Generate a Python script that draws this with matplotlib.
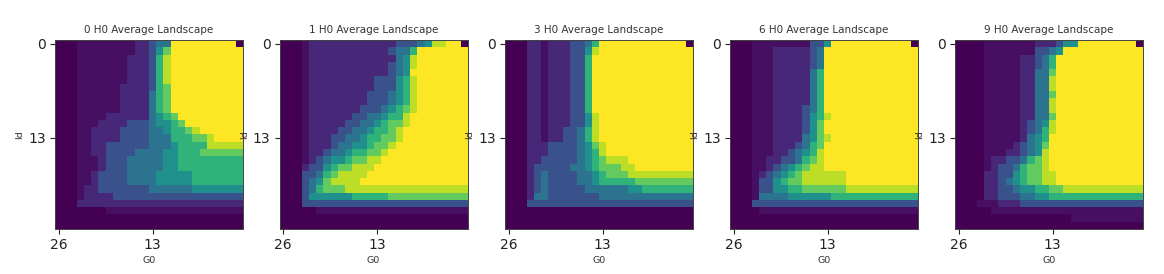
import matplotlib
matplotlib.use('Agg')
import matplotlib.pyplot as plt
import numpy as np

# digits in the rows are indexes into levels (approximate colour scale positions)
levels = [0.0, 0.04, 0.11, 0.25, 0.38, 0.5, 0.65, 0.76, 0.9, 1.0]

titles = ['0 H0 Average Landscape', '1 H0 Average Landscape', '3 H0 Average Landscape',
          '6 H0 Average Landscape', '9 H0 Average Landscape']
tick_pos = [0, 13]
x_tick_labels = ['26', '13']
y_tick_labels = ['0', '13']

land0 = [
    '00011111111223449999999990',
    '00011111111223579999999999',
    '00011111112223689999999999',
    '00011111112223689999999999',
    '00011111112223689999999999',
    '00011111112223689999999999',
    '00011111122223679999999999',
    '00011111122224679999999999',
    '00011111122224679999999999',
    '00011111122224679999999999',
    '00011112222224567999999999',
    '00011122223334556799999999',
    '00011222233334456678999999',
    '00011222233334446667789999',
    '00011223333334445666688888',
    '00011223333444455666777777',
    '00011123334444455666666666',
    '00011123334444455666666666',
    '00011233334444555556666666',
    '00011233334444555556666666',
    '00012233333334444445555555',
    '00012222333333333333333333',
    '00022222222222222222222222',
    '00000001111111111111111111',
    '00000000000000000000000000',
    '00000000000000000000000000',
]

land1 = [
    '00012222222222223334588990',
    '00012222222222234469999999',
    '00012222222222224589999999',
    '00012222222222234589999999',
    '00012222222222234599999999',
    '00012222222223335689999999',
    '00012222222223335689999999',
    '00012222222233345689999999',
    '00012222222233345689999999',
    '00012222222333456789999999',
    '00012222223344566899999999',
    '00012222233445677899999999',
    '00012222334456678999999999',
    '00012223344566778999999999',
    '00012223445567789999999999',
    '00012234456677899999999999',
    '00012345567788999999999999',
    '00023356778889999999999999',
    '00033467888899999999999999',
    '00034578888999999999999999',
    '00034677788888888888888888',
    '00035555556666677777777777',
    '00033333333333333333333333',
    '00000111111111111111111111',
    '00000000000000000000000000',
    '00000000000000000000000000',
]

land2 = [
    '00022122233469999999999990',
    '00022122233589999999999999',
    '00022122233699999999999999',
    '00022122233699999999999999',
    '00022122233699999999999999',
    '00022122233699999999999999',
    '00022122233699999999999999',
    '00022122233699999999999999',
    '00022122233699999999999999',
    '00022122233699999999999999',
    '00022122233589999999999999',
    '00022122233589999999999999',
    '00022122334689999999999999',
    '00022122334689999999999999',
    '00022233334578999999999999',
    '00022233334568999999999999',
    '00022333334567888999999999',
    '00023333344567778899999999',
    '00023433334456777888888888',
    '00023433334456666677777777',
    '00023433333444444556666666',
    '00024433333334444444444444',
    '00033333333333333333333333',
    '00000000000000000000000000',
    '00000000000000000000000000',
    '00000000000000000000000000',
]

land3 = [
    '00011111111335999999999990',
    '00011122222349999999999999',
    '00011122222349999999999999',
    '00011122222349999999999999',
    '00011122222469999999999999',
    '00011122222469999999999999',
    '00011122222469999999999999',
    '00011122222469999999999999',
    '00011122222469999999999999',
    '00011122223469999999999999',
    '00011122223568999999999999',
    '00011122223579999999999999',
    '00011122223579999999999999',
    '00011122224578999999999999',
    '00011122234679999999999999',
    '00011122345689999999999999',
    '00011223346789999999999999',
    '00011234567889999999999999',
    '00012345678888889999999999',
    '00013356778888889999999999',
    '00013355667777778888888888',
    '00014444555555666666666666',
    '00033333333333333333333333',
    '00001111111111111111111111',
    '00000000000000000000000000',
    '00000000000000000000000000',
]

land4 = [
    '00001111111222355999999990',
    '00001111111334599999999999',
    '00001111122346999999999999',
    '00001111122346999999999999',
    '00001111122447999999999999',
    '00001111122448999999999999',
    '00001111122448999999999999',
    '00001111122447999999999999',
    '00001111122448999999999999',
    '00001111122448999999999999',
    '00001111122447999999999999',
    '00001111123458999999999999',
    '00001111123468999999999999',
    '00001111124569999999999999',
    '00001111234579999999999999',
    '00001112234589999999999999',
    '00001223346789999999999999',
    '00001233467789999999999999',
    '00002233567788999999999999',
    '00002234567788999999999999',
    '00002233455667788888888888',
    '00002233344556666666666666',
    '00011122233333333333333333',
    '00000111111111111111111111',
    '00000000000000001111111111',
    '00000000000000000000000000',
]

panels = [land0, land1, land2, land3, land4]
lefts = [55, 279.5, 505, 730, 955]

W, H = 1164, 274
fig = plt.figure(figsize=(W / 100, H / 100), dpi=100)

for rows, title, left in zip(panels, titles, lefts):
    ax = fig.add_axes([left / W, 1 - 228.7 / H, 188 / W, 188.7 / H])
    grid = np.array([[levels[int(c)] for c in row] for row in rows])
    ax.imshow(grid, cmap='viridis', vmin=0, vmax=1, aspect='auto', interpolation='nearest')
    ax.set_xticks(tick_pos)
    ax.set_xticklabels(x_tick_labels)
    ax.set_yticks(tick_pos)
    ax.set_yticklabels(y_tick_labels)
    ax.tick_params(labelsize=10, length=3.5, width=0.8, pad=3, colors='#222222')
    ax.set_title(title, fontsize=7.5, color='#333333', pad=5)
    ax.set_xlabel('G0', fontsize=6.8, color='#333333', labelpad=3)
    ax.set_ylabel('Id', fontsize=6.8, color='#333333', labelpad=3)
    for s in ax.spines.values():
        s.set_linewidth(0.7)
        s.set_color('#444444')

fig.savefig('out.png', dpi=100)
